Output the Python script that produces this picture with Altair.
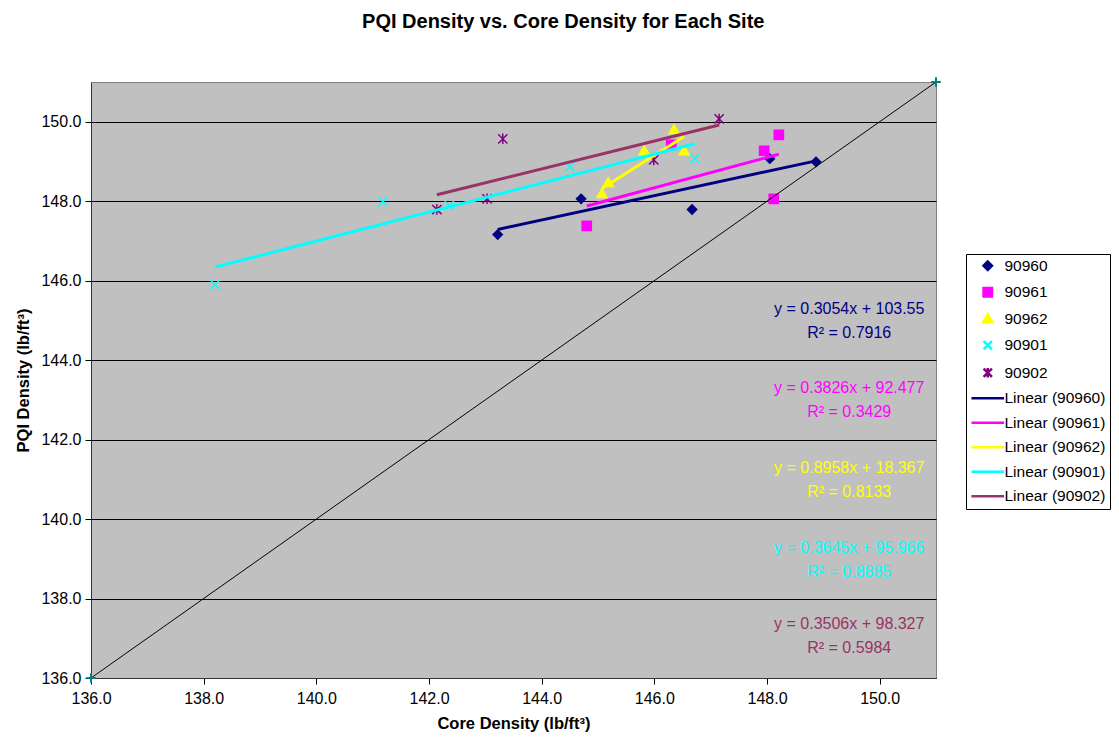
import altair as alt
import pandas as pd

# ---------------- data ----------------
site_ids = ["90960", "90961", "90962", "90901", "90902"]

core_90960 = [143.22, 144.70, 146.67, 148.05, 148.87]
pqi_90960 = [147.16, 148.06, 147.79, 149.07, 148.99]

core_90961 = [144.80, 146.30, 147.95, 148.21, 148.12]
pqi_90961 = [147.38, 149.42, 149.27, 149.67, 148.06]

core_90962 = [146.35, 145.82, 146.53, 145.07, 145.18]
pqi_90962 = [149.80, 149.27, 149.27, 148.19, 148.47]

core_90901 = [138.20, 141.18, 142.36, 144.50, 146.72]
pqi_90901 = [145.90, 147.99, 147.89, 148.87, 149.07]

core_90902 = [143.31, 142.14, 143.03, 145.99, 147.15]
pqi_90902 = [149.57, 147.79, 148.06, 149.04, 150.07]

slopes = [0.3054, 0.3826, 0.8958, 0.3645, 0.3506]
intercepts = [103.55, 92.477, 18.367, 95.966, 98.327]
r_squared = [0.7916, 0.3429, 0.8133, 0.8885, 0.5984]

# equation label anchors (data space, first text line)
eq_core = [149.46, 149.46, 149.46, 149.46, 149.46]
eq_pqi = [145.29, 143.30, 141.29, 139.27, 137.36]

diag_core = [136.0, 151.0]
diag_pqi = [136.0, 151.0]

x_ticks = [136, 138, 140, 142, 144, 146, 148, 150]
y_ticks = [136, 138, 140, 142, 144, 146, 148, 150]

# ---------------- styles ----------------
marker_colors = ["#000080", "#FF00FF", "#FFFF00", "#00FFFF", "#800080"]
trend_colors = ["#000080", "#FF00FF", "#FFFF00", "#00FFFF", "#993366"]
# invisible zero-length segments give every legend symbol the same width
PAD = "M-3.9,0L-3.9,0M3.9,0L3.9,0"
DIAMOND = "M-1,0L0,-1L1,0L0,1Z" + PAD
SQUARE = "M-1,-1L1,-1L1,1L-1,1Z" + PAD
TRIANGLE = "M0,-1.05L1.1,0.85L-1.1,0.85Z" + PAD
X_PATH = "M-1,-1L1,1M-1,1L1,-1" + PAD
STAR_PATH = "M-1,-1L1,1M-1,1L1,-1M0,-1.15L0,1.15" + PAD
LINE_PATH = "M-3.9,0L3.9,0"
marker_shapes = [DIAMOND, SQUARE, TRIANGLE, X_PATH, STAR_PATH]
FONT = "Liberation Sans"

# ---------------- tables ----------------
core_all = [core_90960, core_90961, core_90962, core_90901, core_90902]
pqi_all = [pqi_90960, pqi_90961, pqi_90962, pqi_90901, pqi_90902]
trend_names = [f"Linear ({s})" for s in site_ids]

pts = pd.DataFrame(
    [
        {"series": sid, "core": c, "pqi": p}
        for sid, cs, ps in zip(site_ids, core_all, pqi_all)
        for c, p in zip(cs, ps)
    ]
)

trend_rows = []
for name, cs, m, b in zip(trend_names, core_all, slopes, intercepts):
    for xv in (min(cs), max(cs)):
        trend_rows.append({"series": name, "core": xv, "pqi": m * xv + b})
trend = pd.DataFrame(trend_rows)

eq = pd.DataFrame(
    {
        "series": trend_names,
        "core": eq_core,
        "pqi": eq_pqi,
        "label": [
            f"y = {m}x + {b}\nR\u00b2 = {r}"
            for m, b, r in zip(slopes, intercepts, r_squared)
        ],
    }
)

diag = pd.DataFrame({"core": diag_core, "pqi": diag_pqi})

legend_domain = site_ids + trend_names
color_range = marker_colors + trend_colors
shape_range = marker_shapes + [LINE_PATH] * 5

xscale = alt.Scale(domain=[136, 151], nice=False, zero=False)
yscale = alt.Scale(domain=[136, 151], nice=False, zero=False)

x_axis = alt.Axis(
    values=x_ticks, format=".1f", title="Core Density (lb/ft\u00b3)", grid=False,
    tickSize=6, labelPadding=6, titlePadding=9, labelFlush=False,
    labelFont=FONT, labelFontSize=16, labelColor="black",
    titleFont=FONT, titleFontSize=16.5, titleFontWeight="bold", titleColor="black",
    domainColor="#333333", tickColor="black",
)
y_axis = alt.Axis(
    values=y_ticks, format=".1f", title="PQI Density (lb/ft\u00b3)", grid=True,
    gridColor="black", gridWidth=1, gridOpacity=1,
    tickSize=6, labelPadding=4, titlePadding=9, labelFlush=False,
    labelFont=FONT, labelFontSize=16, labelColor="black",
    titleFont=FONT, titleFontSize=16.5, titleFontWeight="bold", titleColor="black",
    domainColor="#333333", tickColor="black",
)

legend = alt.Legend(
    title=None, orient="none", legendX=875, legendY=172,
    strokeColor="black", fillColor="white", padding=4,
    labelFont=FONT, labelFontSize=15.5, labelColor="black", labelLimit=400,
    symbolSize=70, symbolOffset=10, labelOffset=9, rowPadding=7.5,
    symbolStrokeWidth=2.5, symbolOpacity=1,
)

scale_common = dict(domain=legend_domain, range=color_range)

x_enc = alt.X("core:Q", scale=xscale, axis=x_axis)
y_enc = alt.Y("pqi:Q", scale=yscale, axis=y_axis)

points = alt.Chart(pts).mark_point(filled=True, opacity=1, size=85, strokeWidth=1.5).encode(
    x=x_enc,
    y=y_enc,
    color=alt.Color("series:N", scale=alt.Scale(**scale_common), legend=legend),
    stroke=alt.Stroke("series:N", scale=alt.Scale(**scale_common), legend=legend),
    shape=alt.Shape(
        "series:N", scale=alt.Scale(domain=legend_domain, range=shape_range), legend=legend
    ),
)

lines = alt.Chart(trend).mark_line(strokeWidth=3).encode(
    x="core:Q", y="pqi:Q",
    color=alt.Color("series:N", scale=alt.Scale(**scale_common), legend=legend),
    detail="series:N",
)

diag_line = alt.Chart(diag).mark_line(color="black", strokeWidth=1).encode(
    x="core:Q", y="pqi:Q"
)
diag_pts = alt.Chart(diag).mark_point(
    shape="M-1,0L1,0M0,-1L0,1", color="#008080", size=90, strokeWidth=2,
    filled=False, opacity=1,
).encode(x="core:Q", y="pqi:Q")

eq_text = alt.Chart(eq).mark_text(
    align="center", baseline="middle", lineBreak="\n", lineHeight=24,
    font=FONT, fontSize=16,
).encode(
    x="core:Q", y="pqi:Q", text="label:N",
    color=alt.Color("series:N", scale=alt.Scale(**scale_common), legend=legend),
)

chart = (
    alt.layer(points, lines, diag_line, diag_pts, eq_text)
    .properties(
        width=845,
        height=596,
        title=alt.TitleParams(
            "PQI Density vs. Core Density for Each Site",
            font=FONT, fontSize=20, fontWeight="bold", color="black",
            anchor="middle", frame="bounds", offset=41,
        ),
        padding={"left": 7, "top": 4, "right": 0, "bottom": 0},
        background="white",
    )
    .configure_view(fill="#C0C0C0", stroke="#808080", strokeWidth=1)
)

chart.save("out.html", embed_options={"renderer": "svg", "actions": False})
